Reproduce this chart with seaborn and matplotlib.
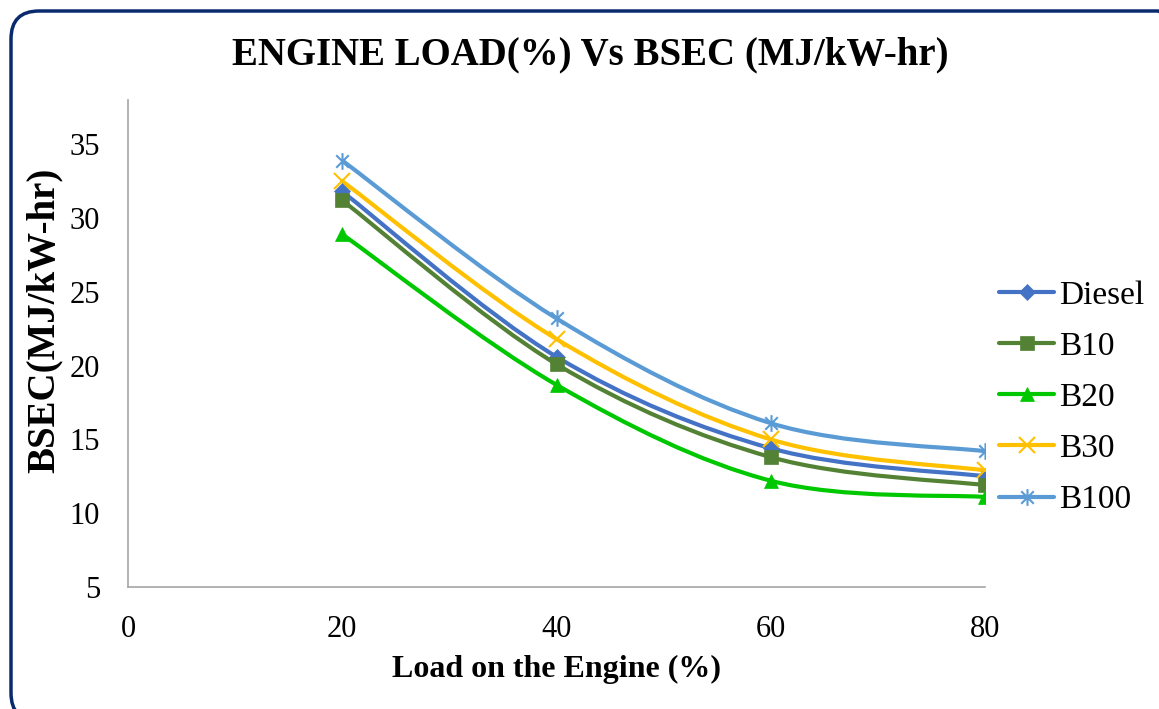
import numpy as np
import pandas as pd
import matplotlib
matplotlib.use("Agg")
import matplotlib.pyplot as plt
import seaborn as sns
from matplotlib.path import Path
from matplotlib.patches import PathPatch, FancyBboxPatch
from matplotlib.lines import Line2D

# ---- data ----
loads = [20, 40, 60, 80]
diesel = [31.8, 20.6, 14.4, 12.5]
b10 = [31.2, 20.1, 13.8, 11.9]
b20 = [28.9, 18.7, 12.2, 11.1]
b30 = [32.5, 21.8, 15.0, 12.9]
b100 = [33.9, 23.2, 16.1, 14.2]
series_names = ["Diesel", "B10", "B20", "B30", "B100"]
x_ticks = [0, 20, 40, 60, 80]
y_ticks = [5, 10, 15, 20, 25, 30, 35]

values = {"Diesel": diesel, "B10": b10, "B20": b20, "B30": b30, "B100": b100}
df = pd.DataFrame([(n, x, y) for n in series_names for x, y in zip(loads, values[n])],
                  columns=["Fuel", "Load", "BSEC"])

colors = {"Diesel": "#4472C4", "B10": "#548235", "B20": "#00C800",
          "B30": "#FFC000", "B100": "#5B9BD5"}
star = Path([(0, -1), (0, 1), (-0.75, -0.75), (0.75, 0.75), (-0.75, 0.75), (0.75, -0.75)],
            [Path.MOVETO, Path.LINETO, Path.MOVETO, Path.LINETO, Path.MOVETO, Path.LINETO])
markers = {"Diesel": "D", "B10": "s", "B20": "^", "B30": "x", "B100": star}
msizes = {"Diesel": 8, "B10": 10, "B20": 10, "B30": 12, "B100": 12}

sns.set_theme(style="white")
plt.rcParams['font.family'] = ['Liberation Serif', 'DejaVu Serif']
plt.rcParams['text.color'] = 'black'
plt.rcParams['axes.labelcolor'] = 'black'
plt.rcParams['xtick.color'] = 'black'
plt.rcParams['ytick.color'] = 'black'

fig = plt.figure(figsize=(11.59, 7.09), dpi=100)
W, H = 1159, 709
ax = fig.add_axes([128 / W, 1 - 587 / H, (985 - 128) / W, (587 - 100) / H])


def smooth_path(xs, ys):
    pts = np.column_stack([xs, ys]).astype(float)
    n = len(pts)
    verts = [pts[0]]
    codes = [Path.MOVETO]
    for i in range(n - 1):
        p0 = pts[i - 1] if i > 0 else pts[i]
        p1 = pts[i]
        p2 = pts[i + 1]
        p3 = pts[i + 2] if i + 2 < n else pts[i + 1]
        c1 = p1 + (p2 - p0) / 6.0
        c2 = p2 - (p3 - p1) / 6.0
        verts += [c1, c2, p2]
        codes += [Path.CURVE4] * 3
    return Path(verts, codes)


handles = []
for name in series_names:
    sub = df[df.Fuel == name]
    ax.add_patch(PathPatch(smooth_path(sub.Load.values, sub.BSEC.values),
                           facecolor="none", edgecolor=colors[name], lw=3.0,
                           zorder=2, transform=ax.transData))
    mew = 1.5 if name in ("B30", "B100") else 0.5
    sns.lineplot(data=sub, x="Load", y="BSEC", ax=ax, linestyle="", marker=markers[name],
                 markersize=msizes[name], color=colors[name], markerfacecolor=colors[name],
                 markeredgecolor=colors[name], markeredgewidth=mew,
                 zorder=3, legend=False)
    handles.append(Line2D([], [], color=colors[name], lw=3.0, marker=markers[name],
                          markersize=msizes[name], markerfacecolor=colors[name],
                          markeredgecolor=colors[name], markeredgewidth=mew))

ax.set_xlim(0, 80)
ax.set_ylim(5, 38)
ax.set_xticks(x_ticks)
ax.set_yticks(y_ticks)
ax.tick_params(axis="both", length=0, labelsize=22, colors="black")
ax.tick_params(axis="y", pad=20)
ax.tick_params(axis="x", pad=20)
for s in ["top", "right"]:
    ax.spines[s].set_visible(False)
for s in ["left", "bottom"]:
    ax.spines[s].set_color("#A6A6A6")
    ax.spines[s].set_linewidth(1.2)
ax.grid(False)

ax.set_xlabel("Load on the Engine (%)", fontsize=23, fontweight="bold", labelpad=8,
              color="black")
ax.set_ylabel("BSEC(MJ/kW-hr)", fontsize=28, fontweight="bold", color="black")
ax.yaxis.set_label_coords(-0.076, (587 - 320) / 487)
fig.text(590 / W, 1 - 55 / H, "ENGINE LOAD(%) Vs BSEC (MJ/kW-hr)", fontsize=28,
         fontweight="bold", ha="center", va="center", color="black")

leg = fig.legend(handles, series_names, loc="upper left",
                 bbox_to_anchor=(999 / W, 1 - 280 / H), frameon=False, fontsize=24,
                 handlelength=1.65, handletextpad=0.15, labelspacing=0.62, borderaxespad=0,
                 borderpad=0)
for t in leg.get_texts():
    t.set_color("black")

border = FancyBboxPatch((11, -12), 1175, 709 - 11 + 12,
                        boxstyle="round,pad=0,rounding_size=28",
                        transform=None, facecolor="none", edgecolor="#0A2A6E",
                        linewidth=2.5, zorder=10)
fig.patches.append(border)

fig.savefig("out.png", dpi=100)
